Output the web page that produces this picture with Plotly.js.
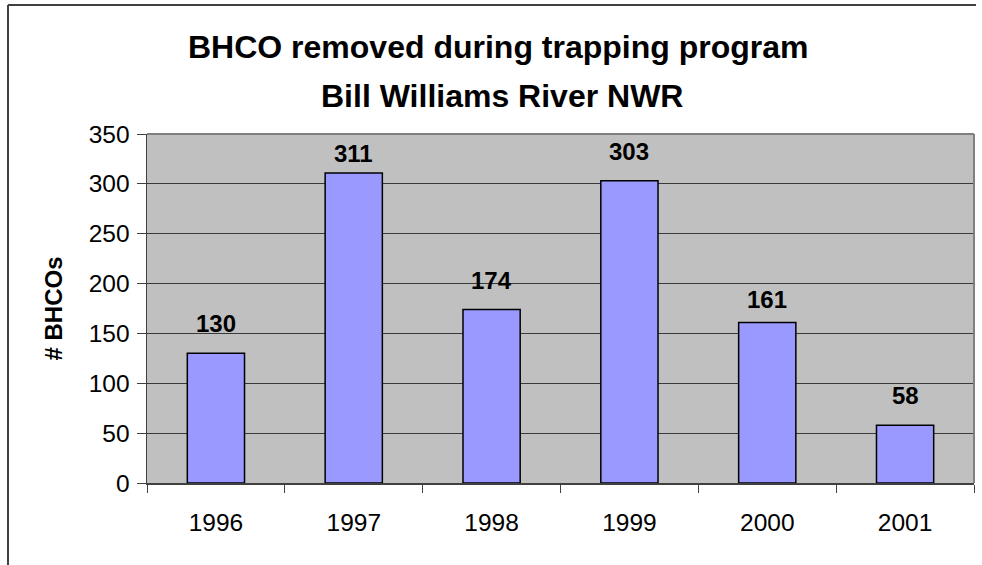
<!DOCTYPE html>
<html>
<head>
<meta charset="utf-8">
<script src="https://cdn.plot.ly/plotly-3.0.1.min.js"></script>
<style>
  html, body { margin: 0; padding: 0; background: #ffffff; }
  #chart { width: 982px; height: 565px; }
</style>
</head>
<body>
<div id="chart"></div>
<script>
var years = ['1996', '1997', '1998', '1999', '2000', '2001'];
var bhcoRemoved = [130, 311, 174, 303, 161, 58];
var yTickValues = [0, 50, 100, 150, 200, 250, 300, 350];
var titleLine1 = 'BHCO removed during trapping program';
var titleLine2 = 'Bill Williams River NWR';
var yAxisTitle = '# BHCOs';

// style: vertical pixel offsets of each data label above its bar
var labelShiftPx = [14.5, 3.5, 14, 13.5, 7.5, 14];

var W = 982, H = 565;
var mL = 147, mR = 8, mT = 134, mB = 82;
var pw = W - mL - mR, ph = H - mT - mB;
function px(x) { return (x - mL) / pw; }
function py(y) { return (H - mB - y) / ph; }

var FONT = 'Liberation Sans, Arial, sans-serif';

var trace = {
  type: 'bar',
  x: years,
  y: bhcoRemoved,
  marker: { color: '#9999FF', line: { color: '#000000', width: 1.5 } },
  hoverinfo: 'x+y'
};

var annotations = years.map(function (yr, i) {
  return {
    x: i, y: bhcoRemoved[i], xref: 'x', yref: 'y',
    text: '<b>' + bhcoRemoved[i] + '</b>',
    showarrow: false, yanchor: 'bottom', yshift: labelShiftPx[i],
    font: { family: FONT, size: 24, color: '#000000' }
  };
});
annotations.push({
  x: px(498), y: py(47.5), xref: 'paper', yref: 'paper',
  text: '<b>' + titleLine1 + '</b>', showarrow: false,
  xanchor: 'center', yanchor: 'middle',
  font: { family: FONT, size: 32, color: '#000000' }
});
annotations.push({
  x: px(502), y: py(95.5), xref: 'paper', yref: 'paper',
  text: '<b>' + titleLine2 + '</b>', showarrow: false,
  xanchor: 'center', yanchor: 'middle',
  font: { family: FONT, size: 32, color: '#000000' }
});

var shapes = [
  { type: 'line', xref: 'paper', yref: 'paper', x0: px(8), x1: px(976), y0: py(5), y1: py(5),
    line: { color: '#404040', width: 2 } },
  { type: 'line', xref: 'paper', yref: 'paper', x0: px(8), x1: px(8), y0: py(5), y1: py(566),
    line: { color: '#404040', width: 2 } },
  { type: 'line', xref: 'paper', yref: 'paper', x0: 0, x1: 1, y0: 1, y1: 1,
    line: { color: '#808080', width: 2 } },
  { type: 'line', xref: 'paper', yref: 'paper', x0: 1, x1: 1, y0: 0, y1: 1,
    line: { color: '#808080', width: 2 } }
];

var layout = {
  width: W, height: H,
  margin: { l: mL, r: mR, t: mT, b: mB, pad: 0 },
  paper_bgcolor: '#ffffff',
  plot_bgcolor: '#C0C0C0',
  showlegend: false,
  bargap: 0.585,
  font: { family: FONT, size: 24.5, color: '#000000' },
  xaxis: {
    type: 'category',
    categoryorder: 'array', categoryarray: years,
    range: [-0.5, years.length - 0.5],
    autorange: false,
    tickson: 'boundaries',
    ticks: 'outside', ticklen: 8, tickwidth: 1, tickcolor: '#404040',
    showline: true, linecolor: '#404040', linewidth: 1.5,
    showgrid: false, zeroline: false,
    ticklabelstandoff: 17,
    tickangle: 0,
    tickfont: { family: FONT, size: 24.5, color: '#000000' }
  },
  yaxis: {
    range: [0, 350],
    autorange: false,
    tickvals: yTickValues,
    ticktext: yTickValues.map(String),
    ticks: 'outside', ticklen: 9, tickwidth: 1, tickcolor: '#404040',
    showline: true, linecolor: '#404040', linewidth: 1.5,
    showgrid: true, gridcolor: '#3a3a3a', gridwidth: 1,
    zeroline: false,
    ticklabelstandoff: 2,
    tickfont: { family: FONT, size: 24.5, color: '#000000' },
    title: { text: '<b>' + yAxisTitle + '</b>', standoff: 19,
             font: { family: FONT, size: 24, color: '#000000' } }
  },
  annotations: annotations,
  shapes: shapes
};

Plotly.newPlot('chart', [trace], layout, { displayModeBar: false, staticPlot: true });
</script>
</body>
</html>
